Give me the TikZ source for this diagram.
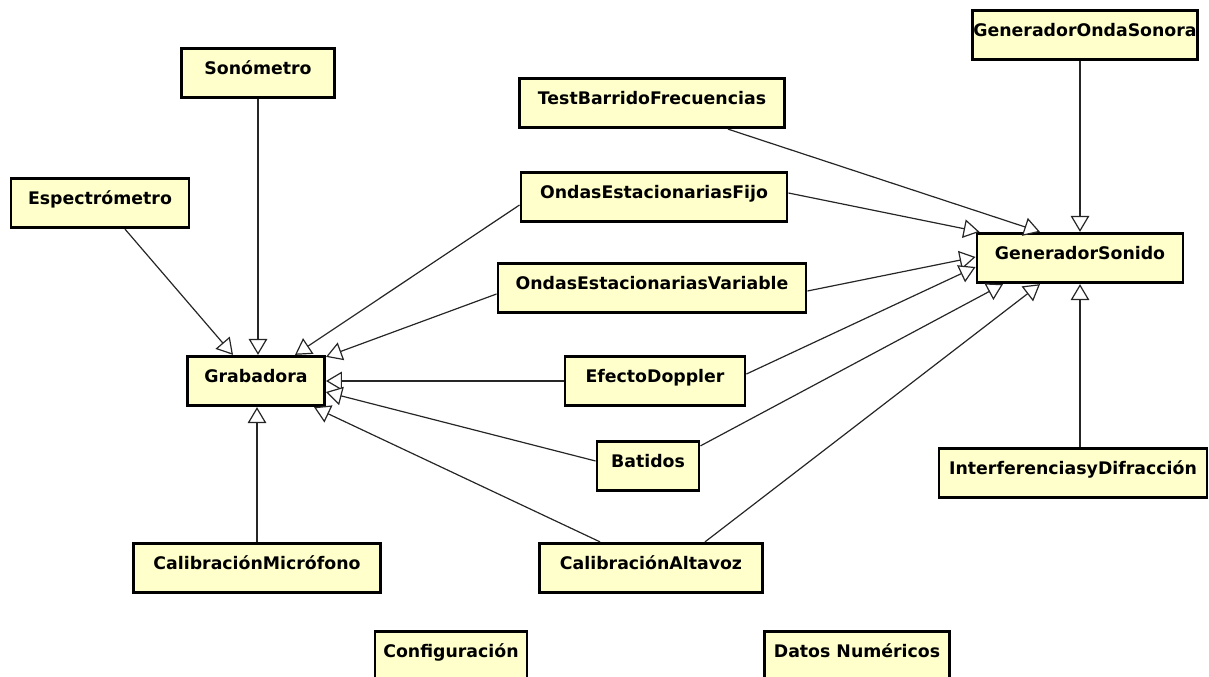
\documentclass[tikz,border=0pt]{standalone}
\usepackage{fontspec}
\setmainfont{DejaVu Sans}
\usetikzlibrary{arrows.meta,calc}
\definecolor{boxfill}{RGB}{255,255,204}
\begin{document}
\begin{tikzpicture}[x=0.75pt,y=-0.75pt,
  cls/.style={draw=black,line width=2.2pt,fill=boxfill,inner sep=0pt,
    text height=19.5pt,text depth=17.5pt,font=\bfseries\fontsize{13}{15}\selectfont},
  gen/.style={line width=0.9pt,draw=black!85,
    -{Triangle[length=12pt,width=14pt,fill=white,line width=0.9pt]}}]
\useasboundingbox (0,0) rectangle (1209,677);
% nodes
\node[cls,minimum width=114.75pt] (sono) at (258,73) {Sonómetro};
\node[cls,minimum width=133.5pt] (espec) at (100,203) {Espectrómetro};
\node[cls,minimum width=102.75pt] (grab) at (256,381) {Grabadora};
\node[cls,minimum width=185.25pt] (calmic) at (257,568) {CalibraciónMicrófono};
\node[cls,minimum width=198.75pt] (test) at (652,103) {TestBarridoFrecuencias};
\node[cls,minimum width=199.5pt] (fijo) at (654,197) {OndasEstacionariasFijo};
\node[cls,minimum width=231pt] (var) at (652,288) {OndasEstacionariasVariable};
\node[cls,minimum width=135pt] (doppler) at (655,381) {EfectoDoppler};
\node[cls,minimum width=76.5pt] (batidos) at (648,466) {Batidos};
\node[cls,minimum width=167.25pt] (calalt) at (651,568) {CalibraciónAltavoz};
\node[cls,minimum width=168.75pt] (gos) at (1085,35) {GeneradorOndaSonora};
\node[cls,minimum width=154.5pt] (gsonido) at (1080,258) {GeneradorSonido};
\node[cls,minimum width=201pt] (interf) at (1073,473) {InterferenciasyDifracción};
\node[cls,minimum width=114pt] (config) at (451,656) {Configuración};
\node[cls,minimum width=138.75pt] (datos) at (857,656) {Datos Numéricos};
% generalizations to Grabadora
\draw[gen] ($(espec.south)+(25,0)$) -- ($(grab.north)+(-23,0)$);
\draw[gen] (sono.south) -- (sono.south |- grab.north);
\draw[gen] ($(fijo.west)+(0,8)$) -- ($(grab.north)+(39,0)$);
\draw[gen] ($(var.west)+(0,6)$) -- ($(grab.north east)+(0,2)$);
\draw[gen] (doppler.west) -- (doppler.west -| grab.east);
\draw[gen] ($(batidos.west)+(0,-5)$) -- ($(grab.east)+(0,11)$);
\draw[gen] ($(calalt.north)+(-51,0)$) -- ($(grab.south)+(58,0)$);
\draw[gen] (calmic.north) -- (calmic.north |- grab.south);
% generalizations to GeneradorSonido
\draw[gen] (gsonido.north |- gos.south) -- (gsonido.north);
\draw[gen] ($(test.south)+(76,0)$) -- ($(gsonido.north)+(-40,0)$);
\draw[gen] ($(fijo.east)+(0,-4)$) -- ($(gsonido.north west)+(4,0)$);
\draw[gen] ($(var.east)+(0,3)$) -- ($(gsonido.west)+(0,-1)$);
\draw[gen] ($(doppler.east)+(0,-7)$) -- ($(gsonido.west)+(0,9)$);
\draw[gen] ($(batidos.north east)+(0,6)$) -- ($(gsonido.south)+(-77,0)$);
\draw[gen] ($(calalt.north)+(54,0)$) -- ($(gsonido.south)+(-40,0)$);
\draw[gen] (gsonido.south |- interf.north) -- (gsonido.south);
\end{tikzpicture}
\end{document}
